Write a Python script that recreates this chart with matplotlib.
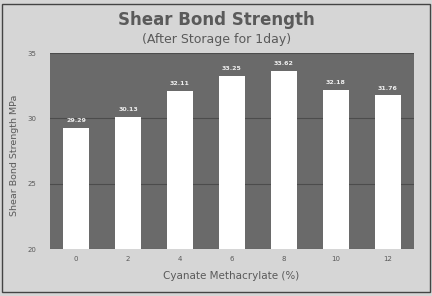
import numpy as np
import matplotlib
matplotlib.use("Agg")
import matplotlib.pyplot as plt
from matplotlib.patches import Rectangle

concentration = ["0", "2", "4", "6", "8", "10", "12"]
strength = [29.29, 30.13, 32.11, 33.25, 33.62, 32.18, 31.76]
y_ticks = [20, 25, 30, 35]

bg = "#d6d6d6"
plot_bg = "#6a6a6a"
txt = "#5a5a5a"

fig = plt.figure(figsize=(4.32, 2.96), dpi=100, facecolor=bg)
ax = fig.add_axes([50/432, 1 - 249/296, 364/432, 196/296])
ax.set_facecolor(plot_bg)

x = np.arange(len(strength))
ax.bar(x, np.array(strength) - 20, bottom=20, width=0.5, color="white", zorder=3)
for xi, v in zip(x, strength):
    ax.text(xi, v + 0.35, f"{v:.2f}", ha="center", va="bottom",
            fontsize=4.5, color="#eeeeee", fontweight="bold", zorder=4)

ax.set_xlim(-0.5, len(strength) - 0.5)
ax.set_ylim(20, 35)
ax.set_yticks(y_ticks)
ax.set_yticklabels([str(t) for t in y_ticks])
ax.set_xticks(x)
ax.set_xticklabels(concentration)
ax.tick_params(axis="both", length=0, labelsize=5, colors=txt)
ax.tick_params(axis="y", pad=10)
ax.tick_params(axis="x", pad=5)
ax.grid(axis="y", color="#4c4c4c", linewidth=0.8, zorder=1)
for s in ax.spines.values():
    s.set_visible(False)

fig.text(216/432, 1 - 20/296, "Shear Bond Strength", ha="center", va="center",
         fontsize=12, fontweight="bold", color=txt)
fig.text(217/432, 1 - 40/296, "(After Storage for 1day)", ha="center", va="center",
         fontsize=9, color=txt)
fig.text(15/432, 1 - 155/296, "Shear Bond Strength MPa", ha="center", va="center",
         rotation=90, fontsize=6.8, color=txt)
fig.text(231/432, 1 - 276/296, "Cyanate Methacrylate (%)", ha="center", va="center",
         fontsize=7.5, color=txt)

fig.patches.append(Rectangle((2/432, 4/296), 428/432, 288/296, transform=fig.transFigure,
                             fill=False, edgecolor="#444444", linewidth=1.0))

fig.savefig("out.png", dpi=100, facecolor=bg)
